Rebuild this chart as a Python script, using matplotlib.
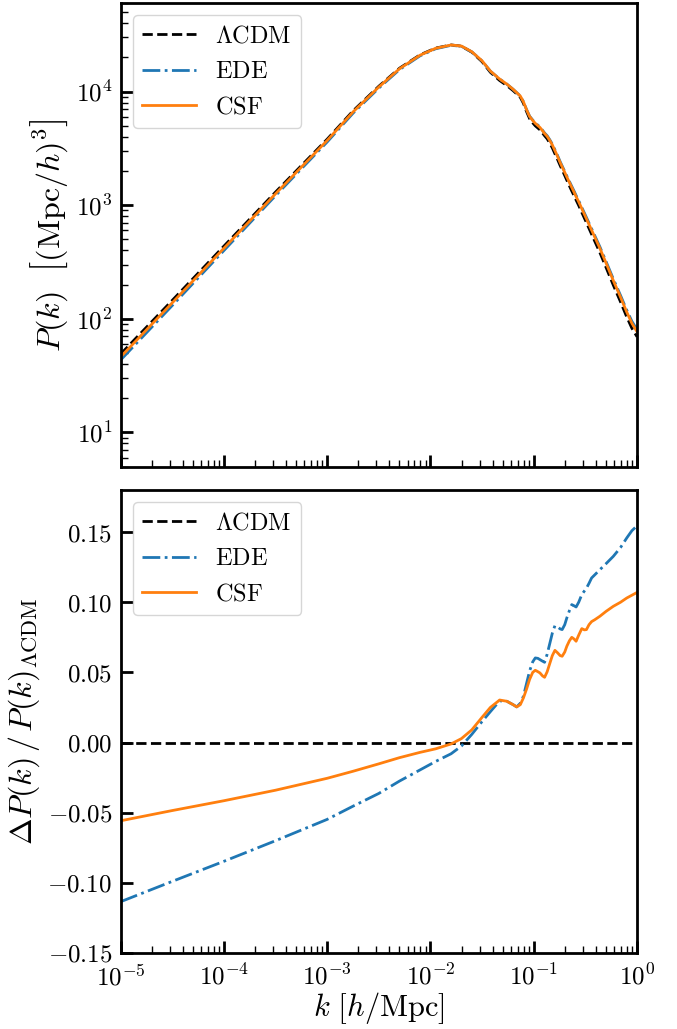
import numpy as np
import matplotlib
matplotlib.use("Agg")
import matplotlib.pyplot as plt
from matplotlib.ticker import FuncFormatter, LogLocator, NullFormatter, MultipleLocator

plt.rcParams["mathtext.fontset"] = "cm"
plt.rcParams["font.family"] = "serif"

# log10 of wavenumber k [h/Mpc]
log_k = [
    -5.0, -4.5, -4.0, -3.5, -3.0, -2.75, -2.5, -2.3, -2.1, -1.95,
    -1.8, -1.7, -1.6, -1.5, -1.42, -1.33, -1.26, -1.2, -1.165, -1.13,
    -1.1, -1.07, -1.04, -1.01, -0.985, -0.96, -0.94, -0.915, -0.895, -0.87,
    -0.845, -0.82, -0.795, -0.77, -0.745, -0.725, -0.70, -0.68, -0.655, -0.632,
    -0.61, -0.59, -0.565, -0.535, -0.51, -0.49, -0.465, -0.44, -0.41, -0.36,
    -0.3, -0.23, -0.16, -0.1, -0.05, 0.0,
]

# LCDM linear matter power spectrum [(Mpc/h)^3]
pk_lcdm = [
    48.8, 145, 435, 1302, 3802, 6740, 11120, 16020, 21040, 24100,
    25700, 25060, 22200, 18290, 14770, 12500, 11280, 10190, 9530, 8880,
    7880, 6670, 5770, 5300, 4990, 4770, 4600, 4310, 4080, 3836,
    3516, 3190, 2833, 2530, 2239, 2046, 1824, 1660, 1479, 1333,
    1213, 1109, 995, 863, 770, 702, 624, 555, 483, 383,
    283, 198, 141, 104, 82.6, 69.5,
]

# fractional difference w.r.t. LCDM
dpk_ede = [
    -0.1135, -0.099, -0.0847, -0.070, -0.0548, -0.0454, -0.0363, -0.0275, -0.0195, -0.0135,
    -0.008, -0.0025, 0.0058, 0.015, 0.022, 0.0297, 0.0294, 0.027, 0.0254, 0.028,
    0.033, 0.042, 0.051, 0.0575, 0.0603, 0.060, 0.0591, 0.058, 0.0572, 0.063,
    0.0705, 0.078, 0.0833, 0.0825, 0.081, 0.0805, 0.084, 0.0888, 0.094, 0.0983,
    0.0975, 0.0966, 0.100, 0.1054, 0.108, 0.110, 0.1135, 0.1173, 0.1195, 0.1232,
    0.1275, 0.1327, 0.139, 0.1458, 0.151, 0.1545,
]
dpk_csf = [
    -0.0558, -0.0485, -0.0415, -0.034, -0.0255, -0.0205, -0.0152, -0.0108, -0.007, -0.0045,
    -0.001, 0.0028, 0.009, 0.018, 0.025, 0.0303, 0.0294, 0.027, 0.0254, 0.027,
    0.0318, 0.038, 0.045, 0.050, 0.0515, 0.0505, 0.0496, 0.0475, 0.0465, 0.0505,
    0.0563, 0.062, 0.0657, 0.064, 0.062, 0.0615, 0.0645, 0.0686, 0.0725, 0.075,
    0.0738, 0.0722, 0.0765, 0.0812, 0.0803, 0.0805, 0.084, 0.0862, 0.0875, 0.090,
    0.0935, 0.0971, 0.100, 0.103, 0.105, 0.107,
]

k = 10.0 ** np.array(log_k)
p_lcdm = np.array(pk_lcdm)
p_ede = p_lcdm * (1 + np.array(dpk_ede))
p_csf = p_lcdm * (1 + np.array(dpk_csf))

models = [
    (r"$\Lambda\mathrm{CDM}$", p_lcdm, "black", "--"),
    (r"$\mathrm{EDE}$", p_ede, "#1f77b4", "-."),
    (r"$\mathrm{CSF}$", p_csf, "#ff7f0e", "-"),
]

fig = plt.figure(figsize=(6.77, 10.29), dpi=100)
ax1 = fig.add_axes([0.178, 0.5465, 0.763, 0.4505])
ax2 = fig.add_axes([0.178, 0.0739, 0.763, 0.4499], sharex=ax1)

for label, pk, color, ls in models:
    ax1.plot(k, pk, color=color, ls=ls, lw=2, label=label)
    ax2.plot(k, pk / p_lcdm - 1, color=color, ls=ls, lw=2, label=label)

ax1.set_xscale("log")
ax1.set_yscale("log")
ax1.set_xlim(1e-5, 1)
ax1.set_ylim(5, 6e4)
ax2.set_ylim(-0.15, 0.18)

pow_fmt = FuncFormatter(lambda v, _: rf"$10^{{{int(round(np.log10(v)))}}}$")
ax2.xaxis.set_major_formatter(pow_fmt)
ax1.yaxis.set_major_formatter(pow_fmt)
ax1.yaxis.set_major_locator(LogLocator(base=10, numticks=10))
ax1.yaxis.set_minor_locator(LogLocator(base=10, subs=np.arange(2, 10), numticks=20))
ax1.yaxis.set_minor_formatter(NullFormatter())
ax1.xaxis.set_minor_locator(LogLocator(base=10, subs=np.arange(2, 10), numticks=20))
ax1.xaxis.set_minor_formatter(NullFormatter())
ax2.yaxis.set_major_locator(MultipleLocator(0.05))
ax2.yaxis.set_major_formatter(FuncFormatter(lambda v, _: rf"${v:.2f}$"))
plt.setp(ax1.get_xticklabels(), visible=False)

for ax in (ax1, ax2):
    for sp in ax.spines.values():
        sp.set_linewidth(2)
    ax.tick_params(which="major", direction="in", length=8.5, width=2,
                   labelsize=18, top=False, right=False)
    ax.tick_params(axis="x", which="major", pad=8)
    ax.tick_params(axis="y", which="major", pad=6)
    ax.tick_params(which="minor", direction="in", length=4.8, width=1,
                   top=False, right=False)
    ax.legend(loc="upper left", fontsize=17.5, handlelength=2.2)

ax1.set_ylabel(r"$P(k)\ \ \left[(\mathrm{Mpc}/h)^3\right]$", fontsize=23)
ax2.set_ylabel(r"$\Delta P(k)\,/\,P(k)_{\Lambda\mathrm{CDM}}$", fontsize=23)
ax2.set_xlabel(r"$k\ \left[h/\mathrm{Mpc}\right]$", fontsize=22, labelpad=0)

fig.savefig("out.png", dpi=100)
